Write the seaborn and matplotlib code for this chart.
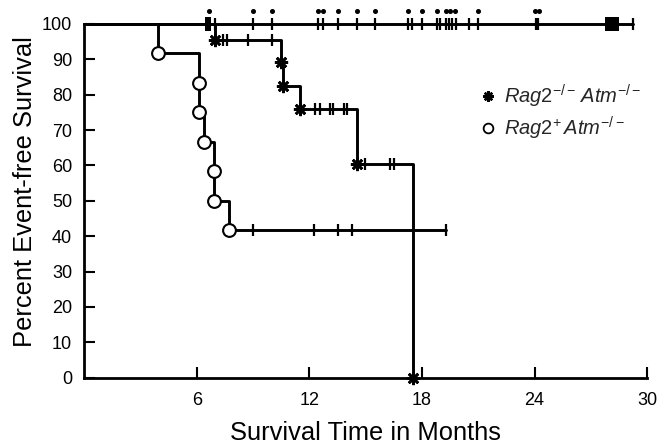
import numpy as np
import pandas as pd
import matplotlib
matplotlib.use("Agg")
import matplotlib.pyplot as plt
from matplotlib.lines import Line2D
import seaborn as sns

# ---------------- data (months, percent event-free) ----------------
# Rag2-/- Atm-/- (asterisks): event times and survival after each event
ko_event_t = [6.96, 10.50, 10.60, 11.49, 14.52, 17.54]
ko_event_s = [95.5, 89.2, 82.5, 76.0, 60.5, 0.0]
ko_censor_t = [7.40, 7.58, 8.74, 9.98, 12.29, 12.56, 13.09, 13.27, 13.82,
               13.98, 14.96, 16.29, 16.52]

# Rag2+ Atm-/- (open circles)
het_event_t = [3.94, 6.10, 6.12, 6.35, 6.90, 6.92, 7.70]
het_event_s = [91.7, 83.3, 75.0, 66.7, 58.3, 50.0, 41.7]
het_censor_t = [9.00, 12.26, 13.50, 14.25]
het_last_t = 19.30

# event-free cohort along the 100 % line
top_censor_t = [6.96, 8.97, 9.98, 12.47, 12.70, 13.50, 14.52, 15.49, 17.27,
                17.48, 18.02, 18.78, 18.96, 19.26, 19.44, 19.62, 19.80,
                20.51, 20.97, 24.06, 24.20]
top_dot_t = [6.62, 8.97, 9.98, 12.47, 12.70, 13.50, 14.52, 15.49, 17.27,
             18.02, 18.78, 19.26, 19.49, 19.76, 20.97, 24.03, 24.24]
top_block_t = [6.57, 28.14]
top_last_t = 29.27

x_ticks = [6, 12, 18, 24, 30]
y_ticks = list(range(0, 101, 10))
labels = [r"$\mathit{Rag2}^{-/-}\,\mathit{Atm}^{-/-}$",
          r"$\mathit{Rag2}^{+}\,\mathit{Atm}^{-/-}$"]


def level_at(t, ev_t, ev_s):
    idx = np.searchsorted(np.asarray(ev_t), np.asarray(t), side="right")
    return np.r_[100.0, ev_s][idx]


# ---------------- style ----------------
sns.set_theme(style="ticks")
plt.rcParams["font.family"] = ["Liberation Sans", "DejaVu Sans"]
plt.rcParams["mathtext.fontset"] = "custom"
plt.rcParams["mathtext.rm"] = "Liberation Sans"
plt.rcParams["mathtext.it"] = "Liberation Sans:italic"
plt.rcParams["mathtext.bf"] = "Liberation Sans:bold"

fig = plt.figure(figsize=(6.59, 4.45), dpi=100)
ax = fig.add_axes([0.1282, 0.1512, 0.8536, 0.7949])

LW = 2.1
K = "black"

# step curves
ko_df = pd.DataFrame({"t": [0.0] + ko_event_t, "s": [100.0] + ko_event_s})
het_df = pd.DataFrame({"t": [0.0] + het_event_t + [het_last_t],
                       "s": [100.0] + het_event_s + [het_event_s[-1]]})
top_df = pd.DataFrame({"t": [0.0, top_last_t], "s": [100.0, 100.0]})

for df in (top_df, het_df, ko_df):
    sns.lineplot(data=df, x="t", y="s", ax=ax, color=K, lw=LW,
                 drawstyle="steps-post", estimator=None, sort=False,
                 clip_on=False)

# censor ticks
tick_kw = dict(ls="none", marker="|", ms=8.5, mew=1.6, color=K, clip_on=False)
ax.plot(top_censor_t, [100] * len(top_censor_t), **tick_kw)
ax.plot([top_last_t], [100], **tick_kw)
ax.plot(ko_censor_t, level_at(ko_censor_t, ko_event_t, ko_event_s), **tick_kw)
ax.plot(het_censor_t, level_at(het_censor_t, het_event_t, het_event_s), **tick_kw)
ax.plot([het_last_t], [het_event_s[-1]], **tick_kw)

# dots above top-line ticks
ax.plot(top_dot_t, [103.6] * len(top_dot_t), ls="none", marker="o", ms=2.6,
        color=K, clip_on=False)

# blocks of clustered censoring
rect_narrow = [(-0.26, -0.5), (0.26, -0.5), (0.26, 0.5), (-0.26, 0.5), (-0.26, -0.5)]
ax.plot([top_block_t[0]], [100], ls="none", marker=rect_narrow, ms=9.6,
        color=K, mew=0, clip_on=False)
ax.plot([top_block_t[1]], [100], ls="none", marker="s", ms=10.2,
        color=K, mew=0, clip_on=False)

# event markers
AST = (8, 2, 0)
ax.plot(ko_event_t, ko_event_s, ls="none", marker=AST, ms=9.5, mew=1.9,
        color=K, clip_on=False, zorder=5)
ax.plot(het_event_t, het_event_s, ls="none", marker="o", ms=9.2, mew=1.5,
        mfc="white", mec=K, clip_on=False, zorder=5)

# axes
ax.set_xlim(0, 30)
ax.set_ylim(0, 100)
ax.set_xticks(x_ticks)
ax.set_yticks(y_ticks)
sns.despine(ax=ax)
for sp in ("left", "bottom"):
    ax.spines[sp].set_linewidth(2.0)
    ax.spines[sp].set_color(K)
ax.tick_params(axis="both", direction="in", length=8, width=1.5, color=K,
               labelsize=13, labelcolor=K)
ax.tick_params(axis="x", pad=10)
ax.tick_params(axis="y", pad=9)
ax.set_xlabel("Survival Time in Months", fontsize=18.4, color=K, labelpad=9)
ax.set_ylabel("Percent Event-free Survival", fontsize=18.4, color=K)
ax.yaxis.set_label_coords(-0.085, 0.526)
ax.patch.set_alpha(0)

handles = [Line2D([], [], ls="none", marker=AST, ms=7.5, mew=1.7, color=K),
           Line2D([], [], ls="none", marker="o", ms=7, mew=1.3, mfc="white", mec=K)]
ax.legend(handles, labels, loc="upper left", bbox_to_anchor=(0.699, 0.835),
          frameon=False, fontsize=14.5, handlelength=1.0, handletextpad=0.3,
          borderpad=0, borderaxespad=0, labelspacing=0.25)

fig.savefig("out.png", dpi=100)
